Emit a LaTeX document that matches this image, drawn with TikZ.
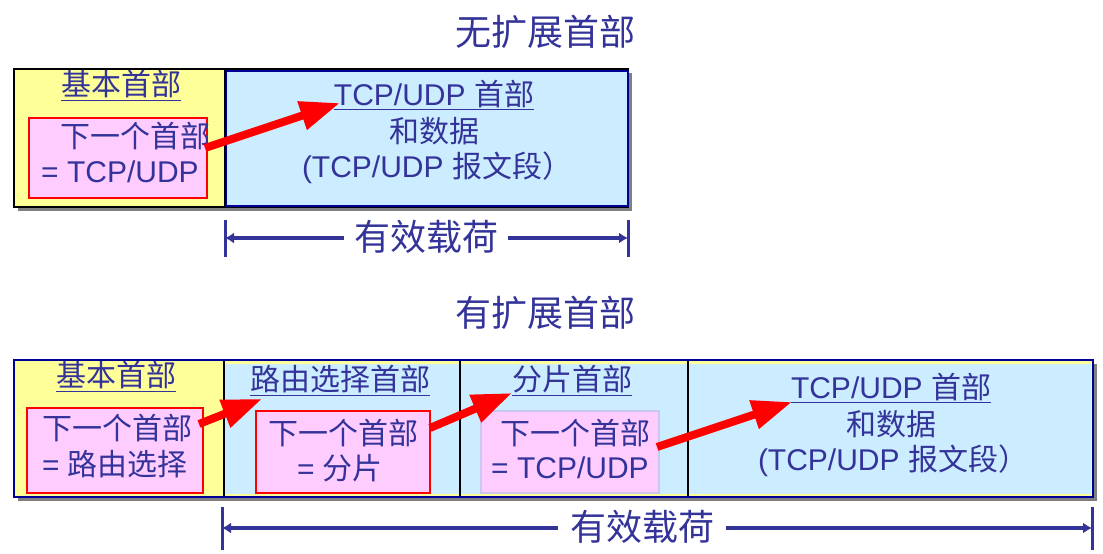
\documentclass[tikz,border=0pt]{standalone}
\usepackage{fontspec}
\setmainfont{Liberation Sans}
\newfontfamily\cjk{Noto Sans CJK SC}
\newcommand\zh[1]{{\cjk #1}}
\usetikzlibrary{arrows.meta}
\definecolor{tx}{HTML}{333399}
\definecolor{ylw}{HTML}{FFFF99}
\definecolor{lblue}{HTML}{CCECFF}
\definecolor{pink}{HTML}{FFCCFF}
\definecolor{dblue}{HTML}{000099}
\definecolor{lav}{HTML}{C8C8F0}
\definecolor{shadowgray}{HTML}{808080}
\begin{document}
\begin{tikzpicture}[x=1pt,y=-1pt,
  txt/.style={inner sep=0pt, text=tx, font=\fontsize{30}{36}\selectfont},
  big/.style={inner sep=0pt, text=tx, font=\fontsize{36}{42}\selectfont},
  ulline/.style={draw=tx, line width=1.8pt},
  shadowbox/.style={fill=shadowgray, draw=none},
  redbox/.style={fill=pink, draw=red, line width=1.6pt},
  lavbox/.style={fill=pink, draw=lav, line width=1.6pt},
  bigarrow/.style={draw=red, line width=8pt, -{Triangle[length=40pt,width=28pt]}},
  payload/.style={draw=tx, line width=3.5pt},
  payarrow/.style={draw=tx, line width=3.5pt, -{Latex[length=9pt,width=11pt]}},
  bar/.style={draw=tx, line width=3pt}]
\useasboundingbox (0,0) rectangle (1103,554);

% ---------------- top diagram ----------------
\node[big] (t1) at (545,32) {\zh{无扩展首部}};
\fill[shadowgray] (18,73) rectangle (632,211);
\draw[black, line width=1.5pt, fill=ylw] (14,69) rectangle (628,207);
\draw[dblue, line width=1.5pt, fill=lblue] (226,71) rectangle (628,206);
\draw[black, line width=1.2pt] (225,69) -- (225,207);

\node[txt] (tb) at (121,84) {\zh{基本首部}};
\draw[ulline] ([yshift=-5pt]tb.base west) -- ([yshift=-5pt]tb.base east);
\draw[redbox] (29,118) rectangle (207,198);
\node[txt] (tn1) at (135,136) {\zh{下一个首部}};
\node[txt] (tn2) at (120,172) {= TCP/UDP};

\node[txt] (th) at (434,94) {TCP/UDP \zh{首部}};
\draw[ulline] ([yshift=-4pt]th.base west) -- ([yshift=-4pt]th.base east);
\node[txt] (td) at (434,131) {\zh{和数据}};
\node[txt] (ts) at (437,168) {(TCP/UDP \zh{报文段）}};

\coordinate (ta0) at (205,148);
\coordinate (ta1) at (340,103);
\draw[bigarrow] (ta0) -- (ta1);

% payload top
\coordinate (pl1) at (225,238);
\coordinate (pr1) at (628,238);
\draw[bar] (225,220) -- (225,257);
\draw[bar] (628,220) -- (628,257);
\node[big] (tp) at (426,237) {\zh{有效载荷}};
\draw[payarrow] ([xshift=-10pt]tp.west |- pl1) -- (pl1);
\draw[payarrow] ([xshift=10pt]tp.east |- pr1) -- (pr1);

% ---------------- bottom diagram ----------------
\node[big] (b1) at (545,313) {\zh{有扩展首部}};
\fill[shadowgray] (18,364) rectangle (1097,501);
\draw[dblue, line width=1.5pt, fill=ylw] (14,360) rectangle (1093,497);
\fill[lblue] (224,364) rectangle (1091,494);
\draw[black, line width=1.2pt] (224,360) -- (224,497);
\draw[black, line width=1.2pt] (460,360) -- (460,497);
\draw[black, line width=1.2pt] (688,360) -- (688,497);
\draw[dblue, line width=1.5pt] (14,360) rectangle (1093,497);

% basic header
\node[txt] (bb) at (116,375) {\zh{基本首部}};
\draw[ulline] ([yshift=-5pt]bb.base west) -- ([yshift=-5pt]bb.base east);
\draw[redbox] (27,408) rectangle (203,493);
\node[txt] (bn1) at (117,428) {\zh{下一个首部}};
\node[txt] (bn2) at (115,464) {= \zh{路由选择}};

% routing header
\node[txt] (rb) at (340,379) {\zh{路由选择首部}};
\draw[ulline] ([yshift=-5pt]rb.base west) -- ([yshift=-5pt]rb.base east);
\draw[redbox] (256,411) rectangle (430,493);
\node[txt] (rn1) at (343,433) {\zh{下一个首部}};
\node[txt] (rn2) at (340,468) {= \zh{分片}};

% fragment header
\node[txt] (fb) at (572,379) {\zh{分片首部}};
\draw[ulline] ([yshift=-5pt]fb.base west) -- ([yshift=-5pt]fb.base east);
\draw[lavbox] (481,411) rectangle (659,493);
\node[txt] (fn1) at (575,433) {\zh{下一个首部}};
\node[txt] (fn2) at (570,468) {= TCP/UDP};

% TCP/UDP
\node[txt] (bh) at (891,387) {TCP/UDP \zh{首部}};
\draw[ulline] ([yshift=-4pt]bh.base west) -- ([yshift=-4pt]bh.base east);
\node[txt] (bd) at (891,424) {\zh{和数据}};
\node[txt] (bs) at (893,461) {(TCP/UDP \zh{报文段）}};

% arrows
\coordinate (a1s) at (199,424);
\coordinate (a1e) at (262,399);
\coordinate (a2s) at (430,428);
\coordinate (a2e) at (512,393);
\coordinate (a3s) at (657,447);
\coordinate (a3e) at (792,402);
\draw[bigarrow] (a1s) -- (a1e);
\draw[bigarrow] (a2s) -- (a2e);
\draw[bigarrow] (a3s) -- (a3e);

% payload bottom
\coordinate (pl2) at (222,528);
\coordinate (pr2) at (1092,528);
\draw[bar] (222,507) -- (222,550);
\draw[bar] (1092,507) -- (1092,550);
\node[big] (bp) at (642,527) {\zh{有效载荷}};
\draw[payarrow] ([xshift=-12pt]bp.west |- pl2) -- (pl2);
\draw[payarrow] ([xshift=12pt]bp.east |- pr2) -- (pr2);
\end{tikzpicture}
\end{document}
